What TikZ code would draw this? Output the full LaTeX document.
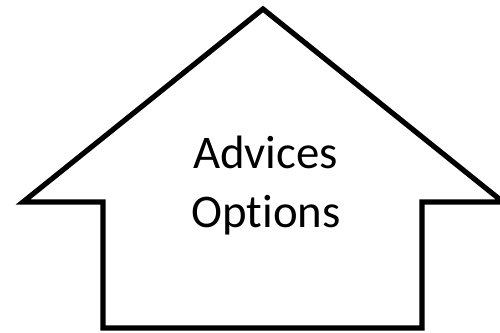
\documentclass[tikz,border=0pt]{standalone}
\usepackage{fontspec}
\setmainfont[Ligatures={NoCommon}]{Carlito}
\begin{document}
\begin{tikzpicture}[x=1pt,y=-1pt,
  houseline/.style={draw=black,line width=5.2pt,line join=miter,fill=white},
  label/.style={font=\fontsize{46.8}{59}\selectfont,align=center,inner sep=0pt,anchor=base}]
\useasboundingbox (0,0) rectangle (500,332);
\clip (0,0) rectangle (500,332);
\coordinate (apex) at (263,9);
\coordinate (rt) at (503,202);
\coordinate (rs) at (422,202);
\coordinate (rb) at (422,328);
\coordinate (lb) at (103,328);
\coordinate (ls) at (103,202);
\coordinate (lt) at (23,202);
\path[houseline] (apex) -- (rt) -- (rs) -- (rb) -- (lb) -- (ls) -- (lt) -- cycle;
\node[label] (adv) at (265.5,168) {Advices};
\node[label] (opt) at (266,227) {Options};
\end{tikzpicture}
\end{document}
